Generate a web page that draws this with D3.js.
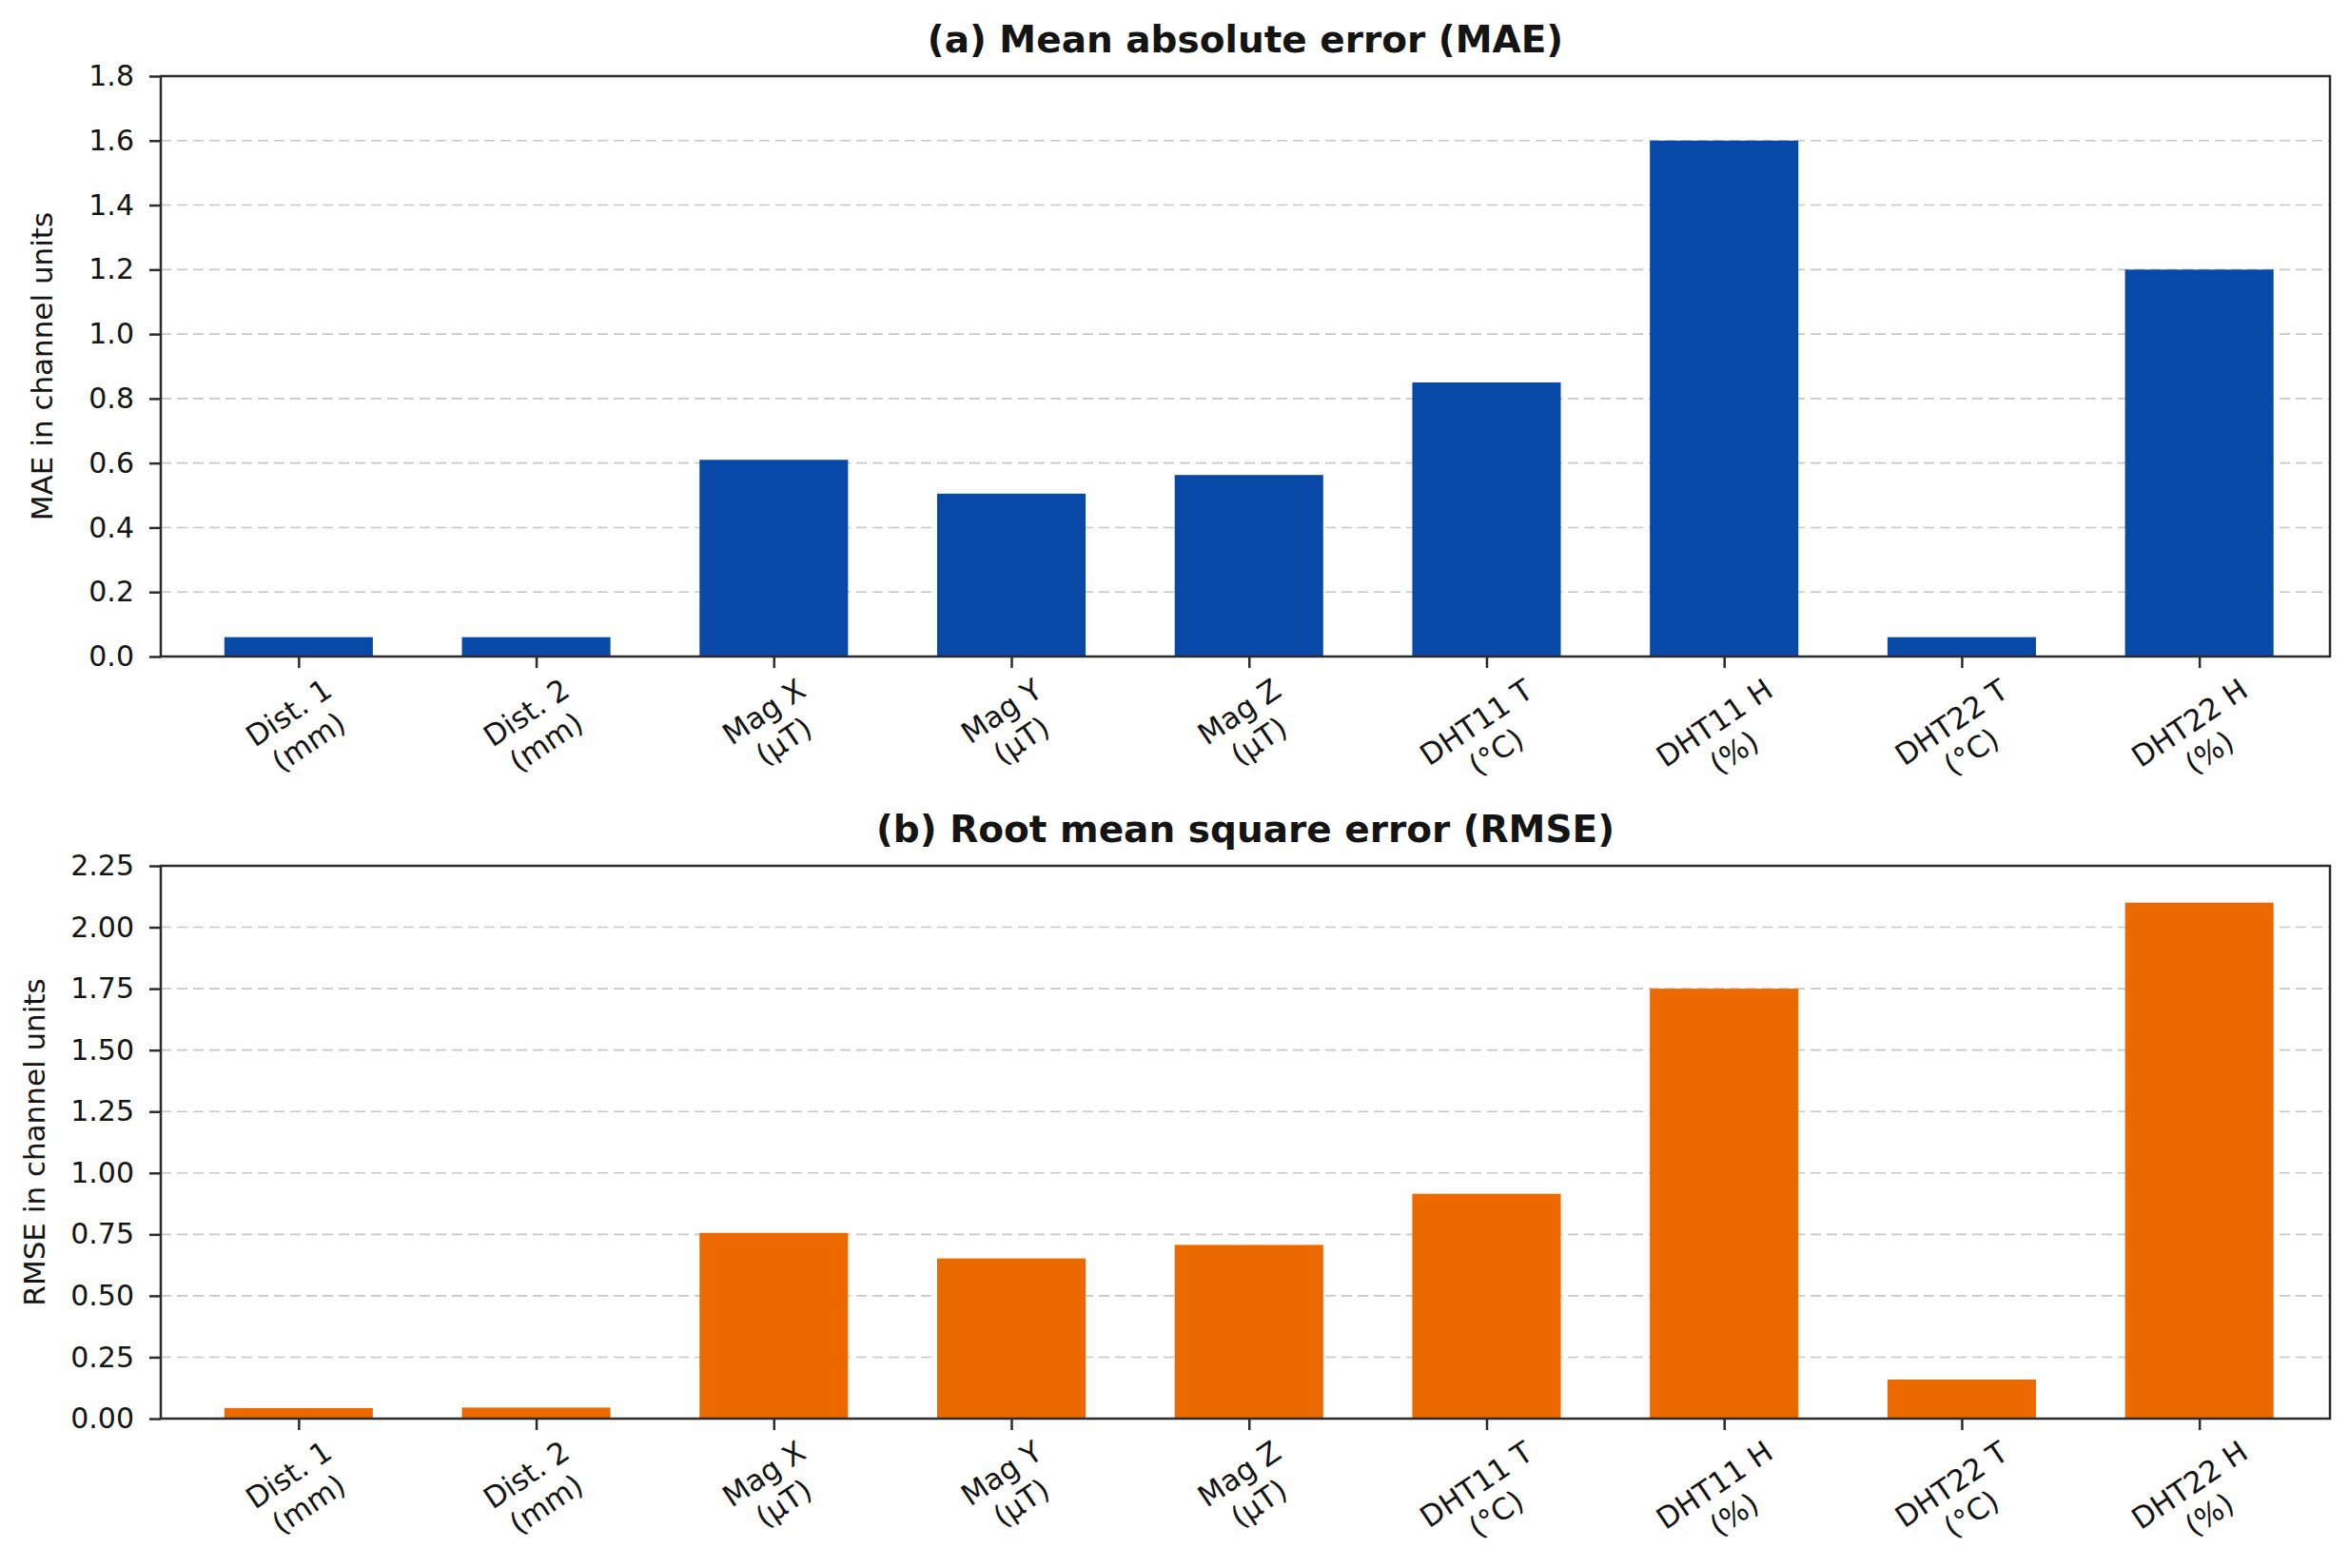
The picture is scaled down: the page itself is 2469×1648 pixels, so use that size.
<!DOCTYPE html>
<html>
<head>
<meta charset="utf-8">
<script src="https://cdn.jsdelivr.net/npm/d3@7"></script>
<style>
  body { margin: 0; background: #fff; }
  text { font-family: "DejaVu Sans", sans-serif; fill: #141414; }
</style>
</head>
<body>
<div id="chart"></div>
<script>
// chart size
var svgWidth = 2469;
var svgHeight = 1648;

// data
var categories = [
  ["Dist. 1", "(mm)"],
  ["Dist. 2", "(mm)"],
  ["Mag X", "(\u00b5T)"],
  ["Mag Y", "(\u00b5T)"],
  ["Mag Z", "(\u00b5T)"],
  ["DHT11 T", "(\u00b0C)"],
  ["DHT11 H", "(%)"],
  ["DHT22 T", "(\u00b0C)"],
  ["DHT22 H", "(%)"]
];
var maeValues = [0.06, 0.06, 0.61, 0.505, 0.563, 0.85, 1.60, 0.06, 1.20];
var rmseValues = [0.043, 0.045, 0.756, 0.652, 0.707, 0.915, 1.75, 0.159, 2.10];
var maeTicks = [0.0, 0.2, 0.4, 0.6, 0.8, 1.0, 1.2, 1.4, 1.6, 1.8];
var rmseTicks = [0.00, 0.25, 0.50, 0.75, 1.00, 1.25, 1.50, 1.75, 2.00, 2.25];

var plotLeft = 169;
var plotRight = 2449;

var svg = d3.select("#chart")
  .append("svg")
  .attr("width", svgWidth)
  .attr("height", svgHeight);

var xScale = d3.scaleLinear()
  .domain([-0.58, 8.55])
  .range([plotLeft, plotRight]);

var barWidth = 0.625;

function drawPanel(cfg) {
  var yScale = d3.scaleLinear()
    .domain([0, cfg.ticks[cfg.ticks.length - 1]])
    .range([cfg.bottom, cfg.top]);

  var g = svg.append("g");

  // dashed grid lines
  g.selectAll(".grid")
    .data(cfg.ticks.slice(1, -1))
    .enter()
    .append("line")
    .attr("x1", plotLeft)
    .attr("x2", plotRight)
    .attr("y1", d => yScale(d))
    .attr("y2", d => yScale(d))
    .attr("stroke", "#c8c8c8")
    .attr("stroke-width", 1.6)
    .attr("stroke-dasharray", "11,6");

  // bars
  g.selectAll(".bar")
    .data(cfg.values)
    .enter()
    .append("rect")
    .attr("x", (d, i) => xScale(i - barWidth / 2))
    .attr("width", xScale(barWidth) - xScale(0))
    .attr("y", d => yScale(d))
    .attr("height", d => cfg.bottom - yScale(d))
    .attr("fill", cfg.color);

  // left axis
  var leftAxis = d3.axisLeft(yScale)
    .tickValues(cfg.ticks)
    .tickFormat(cfg.fmt)
    .tickSizeInner(12)
    .tickSizeOuter(0)
    .tickPadding(16);

  var ya = g.append("g")
    .attr("transform", `translate(${plotLeft}, 0)`)
    .call(leftAxis);
  ya.select(".domain").remove();
  ya.selectAll("line").attr("stroke", "#2b2b2b").attr("stroke-width", 2.5);
  ya.selectAll("text")
    .attr("font-size", 30)
    .attr("font-family", "DejaVu Sans")
    .attr("fill", "#141414");

  // bottom ticks
  var bottomAxis = d3.axisBottom(xScale)
    .tickValues(d3.range(categories.length))
    .tickFormat("")
    .tickSizeInner(12)
    .tickSizeOuter(0);

  var xa = g.append("g")
    .attr("transform", `translate(0, ${cfg.bottom})`)
    .call(bottomAxis);
  xa.select(".domain").remove();
  xa.selectAll("line").attr("stroke", "#2b2b2b").attr("stroke-width", 2.5);

  // rotated two-line tick labels
  var angle = 34;
  var rad = angle * Math.PI / 180;
  categories.forEach(function(lines, i) {
    var lg = g.append("g");
    var t = lg.append("text")
      .attr("text-anchor", "middle")
      .attr("font-size", 31);
    lines.forEach(function(s, k) {
      t.append("tspan")
        .attr("x", 0)
        .attr("dy", k === 0 ? "0.35em" : "1.2em")
        .text(s);
    });
    var bb = t.node().getBBox();
    var cx = bb.x + bb.width / 2;
    var cy = bb.y + bb.height / 2;
    var rotH = bb.width * Math.sin(rad) + bb.height * Math.cos(rad);
    lg.attr("transform",
      `translate(${xScale(i)}, ${cfg.bottom + 16 + rotH / 2}) rotate(${-angle}) translate(${-cx}, ${-cy})`);
  });

  // frame
  g.append("rect")
    .attr("x", plotLeft)
    .attr("y", cfg.top)
    .attr("width", plotRight - plotLeft)
    .attr("height", cfg.bottom - cfg.top)
    .attr("fill", "none")
    .attr("stroke", "#2b2b2b")
    .attr("stroke-width", 2.5);

  // title
  g.append("text")
    .attr("x", (plotLeft + plotRight) / 2)
    .attr("y", cfg.top - 25)
    .attr("text-anchor", "middle")
    .attr("font-size", 39)
    .attr("font-weight", "bold")
    .text(cfg.title);

  // y label
  g.append("text")
    .attr("transform", `translate(${cfg.labelX}, ${(cfg.top + cfg.bottom) / 2}) rotate(-90)`)
    .attr("text-anchor", "middle")
    .attr("dy", "0.35em")
    .attr("font-size", 31)
    .text(cfg.ylabel);
}

drawPanel({
  top: 80,
  bottom: 690,
  values: maeValues,
  ticks: maeTicks,
  fmt: d3.format(".1f"),
  color: "#0849a8",
  title: "(a) Mean absolute error (MAE)",
  ylabel: "MAE in channel units",
  labelX: 44
});

drawPanel({
  top: 910,
  bottom: 1491,
  values: rmseValues,
  ticks: rmseTicks,
  fmt: d3.format(".2f"),
  color: "#ec6900",
  title: "(b) Root mean square error (RMSE)",
  ylabel: "RMSE in channel units",
  labelX: 36
});
</script>
</body>
</html>
